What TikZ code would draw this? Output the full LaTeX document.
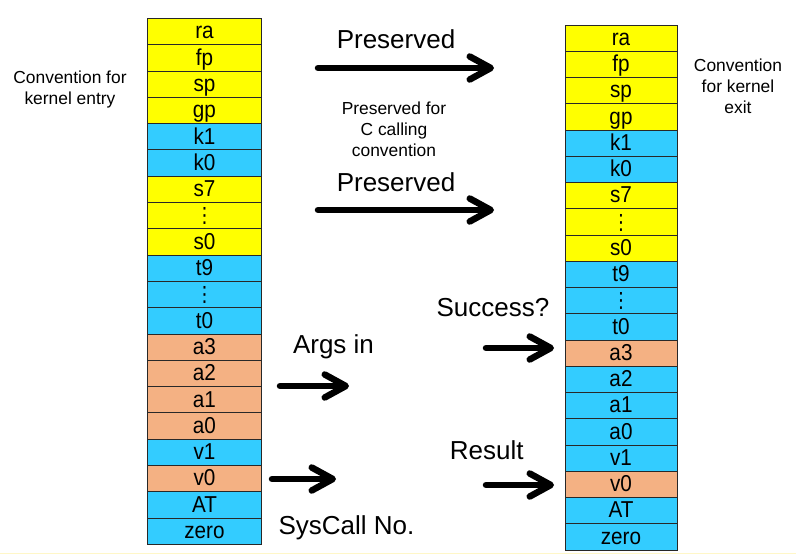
\documentclass[tikz,border=0pt]{standalone}
\usepackage{fontspec}
\usepackage{graphicx}
\setmainfont{Liberation Sans}
\newfontfamily\dvfont{DejaVu Sans}
\usetikzlibrary{arrows.meta}
\definecolor{regY}{RGB}{255,255,0}
\definecolor{regC}{RGB}{51,204,255}
\definecolor{regO}{RGB}{244,177,131}
\definecolor{edgeG}{RGB}{40,40,40}
\definecolor{paleY}{RGB}{255,247,200}
\newcommand{\vd}{{\dvfont\fontsize{21}{21}\selectfont ⋮}}
\newcommand{\reglab}[1]{\scalebox{0.9}[1]{\fontsize{23}{23}\selectfont #1}}
\begin{document}
\begin{tikzpicture}[x=1pt,y=1pt,
  regbox/.style={draw=edgeG, line width=0.8pt, inner sep=0pt, outer sep=0pt,
    text height=20.5pt, text depth=5.8pt},
  bigarrow/.style={line width=6.5pt, line cap=round,
    -{Straight Barb[length=21pt,width=23pt,round]}},
  bigtext/.style={font=\fontsize{26}{30}\selectfont, inner sep=0pt, anchor=base},
  smalltext/.style={font=\fontsize{17.4}{21}\selectfont, align=center, inner sep=0pt}]
\useasboundingbox (0,0) rectangle (796,-555);
\fill[white] (0,0) rectangle (796,-555);
\draw[paleY, line width=1.5pt] (0,-553.5) -- (796,-553.5);
% left stack
\foreach \lab/\col [count=\i from 0] in {ra/regY,fp/regY,sp/regY,gp/regY,k1/regC,k0/regC,s7/regY,\vd/regY,s0/regY,t9/regC,\vd/regC,t0/regC,a3/regO,a2/regO,a1/regO,a0/regO,v1/regC,v0/regO,AT/regC,zero/regC}
  \node[regbox, fill=\col, minimum width=113.5pt, minimum height=26.3pt] (L\i) at (204.5, {-(18.3+26.3*(\i+0.5))}) {\reglab{\lab}};
% right stack
\foreach \lab/\col [count=\i from 0] in {ra/regY,fp/regY,sp/regY,gp/regY,k1/regC,k0/regC,s7/regY,\vd/regY,s0/regY,t9/regC,\vd/regC,t0/regC,a3/regO,a2/regC,a1/regC,a0/regC,v1/regC,v0/regO,AT/regC,zero/regC}
  \node[regbox, fill=\col, minimum width=112pt, minimum height=26.25pt] (R\i) at (621, {-(25+26.25*(\i+0.5))}) {\reglab{\lab}};
% side labels
\node[smalltext] (entry) at (70,-89) {Convention for\\kernel entry};
\node[smalltext] (exit) at (738,-86) {Convention\\for kernel\\exit};
\node[smalltext] (ccall) at (394,-129) {Preserved for\\C calling\\convention};
% texts
\node[bigtext] (pres1) at (396,-48.5) {Preserved};
\node[bigtext] (pres2) at (396,-191.5) {Preserved};
\node[bigtext] (args) at (333.5,-353) {Args in};
\node[bigtext] (sysc) at (346.5,-534) {SysCall No.};
\node[bigtext] (res) at (486.7,-459) {Result};
\node[bigtext] (succ) at (493,-316) {Success?};
% arrows
\coordinate (a1s) at (318,-68);  \coordinate (a1e) at (494,-68);
\coordinate (a2s) at (318,-210); \coordinate (a2e) at (494,-210);
\coordinate (a3s) at (280,-386); \coordinate (a3e) at (349,-386);
\coordinate (a4s) at (272,-479); \coordinate (a4e) at (336,-479);
\coordinate (a5s) at (486,-348); \coordinate (a5e) at (554,-348);
\coordinate (a6s) at (486,-485); \coordinate (a6e) at (554,-485);
\draw[bigarrow] (a1s) -- (a1e);
\draw[bigarrow] (a2s) -- (a2e);
\draw[bigarrow] (a3s) -- (a3e);
\draw[bigarrow] (a4s) -- (a4e);
\draw[bigarrow] (a5s) -- (a5e);
\draw[bigarrow] (a6s) -- (a6e);
\end{tikzpicture}
\end{document}
